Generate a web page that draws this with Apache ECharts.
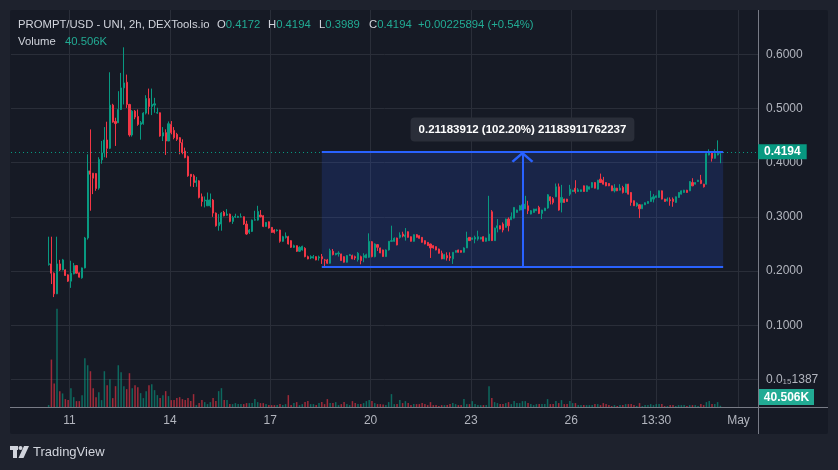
<!DOCTYPE html>
<html><head><meta charset="utf-8">
<script src="https://cdn.jsdelivr.net/npm/echarts@6/dist/echarts.min.js"></script>
<style>html,body{margin:0;padding:0;background:#1e222d}#c{width:838px;height:470px}</style>
</head><body><div id="c"></div>
<script>
// ---- data (2h candles, PROMPT/USD) ----
const opens=[
.2120,.2132,.1961,.1580,.2132,.2022,.2022,.1930,.1814,.1948,
.2101,.1967,.1875,.2058,.2610,.3848,.3805,.3799,.3530,.4050,
.4180,.4418,.4265,.5061,.4760,.4736,.4981,.5379,.5483,.5073,
.4510,.4950,.4852,.4705,.4718,.4914,.5183,.5036,.5061,.4914,
.4920,.4491,.4553,.4399,.4705,.4595,.4522,.4461,.4369,.4215,
.4111,.3786,.3756,.3633,.3664,.3370,.3296,.3204,.3204,.3310,
.3070,.2836,.2867,.3082,.3030,.3050,.2916,.2995,.2990,.3000,
.3002,.2867,.2713,.2732,.2940,.2940,.3033,.3020,.2824,.2909,
.2806,.2757,.2745,.2757,.2549,.2620,.2634,.2561,.2438,.2468,
.2365,.2389,.2420,.2266,.2242,.2242,.2266,.2242,.2266,.2205,
.2205,.2144,.2365,.2303,.2316,.2316,.2266,.2163,.2285,.2285,
.2266,.2211,.2266,.2254,.2242,.2254,.2542,.2266,.2487,.2426,
.2389,.2267,.2389,.2549,.2549,.2610,.2622,.2683,.2634,.2726,
.2634,.2549,.2671,.2653,.2622,.2561,.2530,.2499,.2469,.2450,
.2407,.2328,.2224,.2285,.2267,.2224,.2346,.2389,.2377,.2346,
.2426,.2622,.2585,.2590,.2590,.2591,.2634,.2549,.2561,.3094,
.2561,.2794,.2836,.2867,.2806,.2960,.2947,.2977,.3082,.3125,
.3125,.3149,.3204,.3051,.3082,.3113,.3174,.3063,.3113,.3162,
.3370,.3334,.3370,.3554,.3266,.3327,.3327,.3419,.3468,.3529,
.3468,.3468,.3572,.3468,.3511,.3542,.3633,.3511,.3695,.3676,
.3633,.3615,.3572,.3480,.3529,.3492,.3542,.3450,.3603,.3450,
.3297,.3205,.3223,.3150,.3223,.3248,.3284,.3327,.3358,.3358,
.3480,.3327,.3297,.3315,.3327,.3266,.3358,.3419,.3450,.3492,
.3480,.3633,.3603,.3652,.3676,.3603,.3603,.4141,.4203,.4080,
.4141,.4172];
const closes=[
.2135,.1961,.1580,.2132,.2022,.2206,.1918,.1814,.1960,.2101,
.1961,.1887,.2058,.2610,.3848,.3787,.3713,.3523,.4060,.4180,
.4418,.4265,.5061,.4748,.4720,.4981,.5379,.5471,.5073,.4510,
.4950,.4840,.4705,.4736,.4914,.5183,.5036,.5073,.5085,.4925,
.4491,.4553,.4399,.4718,.4553,.4461,.4430,.4369,.4185,.4093,
.3756,.3744,.3633,.3664,.3358,.3284,.3309,.3309,.3314,.3070,
.2836,.2898,.3070,.3020,.3050,.2916,.2990,.3008,.3008,.3002,
.2867,.2683,.2756,.2940,.2946,.3100,.3002,.2824,.2898,.2794,
.2713,.2713,.2757,.2549,.2634,.2646,.2499,.2438,.2468,.2365,
.2438,.2456,.2266,.2224,.2266,.2266,.2205,.2260,.2224,.2200,
.2144,.2377,.2303,.2328,.2334,.2193,.2163,.2285,.2303,.2224,
.2242,.2328,.2193,.2285,.2303,.2549,.2266,.2499,.2438,.2334,
.2267,.2389,.2549,.2561,.2604,.2481,.2665,.2646,.2665,.2622,
.2549,.2671,.2622,.2604,.2530,.2499,.2469,.2426,.2426,.2389,
.2328,.2224,.2303,.2242,.2242,.2346,.2377,.2346,.2346,.2426,
.2610,.2561,.2610,.2622,.2634,.2622,.2549,.2610,.2683,.2561,
.2794,.2836,.2775,.2757,.2960,.2836,.3002,.3174,.3125,.3204,
.3223,.3235,.3113,.3113,.3143,.3143,.3063,.3125,.3160,.3407,
.3297,.3266,.3554,.3125,.3358,.3266,.3284,.3511,.3492,.3468,
.3499,.3499,.3468,.3572,.3554,.3633,.3529,.3676,.3633,.3603,
.3572,.3572,.3480,.3529,.3480,.3529,.3450,.3603,.3419,.3266,
.3205,.3254,.3150,.3223,.3260,.3284,.3358,.3370,.3388,.3480,
.3327,.3284,.3327,.3297,.3284,.3370,.3450,.3480,.3492,.3450,
.3652,.3572,.3633,.3676,.3615,.3554,.4166,.4185,.4080,.4166,
.4172,.4194];
const lows=[
.2101,.1760,.1520,.1575,.2000,.2015,.1910,.1800,.1690,.1940,
.1955,.1880,.1860,.2050,.2580,.3113,.3419,.3480,.3500,.3980,
.4100,.4090,.4250,.4736,.4308,.4736,.4970,.5073,.5010,.4479,
.4480,.4800,.4680,.4424,.4700,.4889,.4889,.4877,.4920,.4901,
.4479,.4399,.4142,.4399,.4522,.4430,.4400,.4154,.4154,.4081,
.3740,.3560,.3550,.3554,.3340,.3192,.3174,.3200,.3174,.3000,
.2820,.2745,.2744,.3010,.3020,.2900,.2870,.2980,.2980,.2990,
.2850,.2670,.2683,.2720,.2930,.2930,.2990,.2810,.2815,.2785,
.2705,.2690,.2730,.2524,.2540,.2600,.2490,.2425,.2425,.2352,
.2352,.2377,.2254,.2218,.2220,.2230,.2199,.2193,.2132,.2076,
.2132,.2138,.2290,.2290,.2267,.2190,.2157,.2157,.2278,.2218,
.2205,.2175,.2125,.2163,.2240,.2245,.2254,.2254,.2371,.2330,
.2262,.2262,.2377,.2543,.2540,.2475,.2600,.2622,.2561,.2616,
.2543,.2543,.2616,.2598,.2524,.2493,.2462,.2242,.2414,.2383,
.2322,.2218,.2218,.2193,.2187,.2132,.2340,.2340,.2340,.2340,
.2426,.2555,.2580,.2512,.2561,.2585,.2543,.2543,.2555,.2555,
.2555,.2714,.2770,.2714,.2800,.2732,.2941,.2970,.3076,.3113,
.3110,.3143,.3051,.3045,.3076,.3107,.3051,.2959,.3107,.3150,
.3229,.3229,.3364,.3113,.3082,.3260,.3278,.3388,.3462,.3431,
.3462,.3462,.3462,.3462,.3505,.3530,.3523,.3505,.3627,.3597,
.3566,.3566,.3474,.3450,.3474,.3486,.3431,.3444,.3413,.3205,
.3199,.3187,.2977,.3144,.3217,.3242,.3278,.3266,.3352,.3352,
.3321,.3278,.3284,.3205,.3186,.3260,.3352,.3413,.3444,.3444,
.3474,.3566,.3597,.3646,.3603,.3541,.3597,.4135,.4019,.4074,
.4135,.3989];
const highs=[
.2634,.2634,.1975,.2634,.2206,.2224,.2030,.1940,.2190,.2150,
.2110,.1975,.2065,.2630,.4154,.4613,.3810,.3805,.4100,.4400,
.4656,.4755,.5667,.5085,.4828,.5318,.5655,.6127,.5624,.5085,
.4970,.4970,.4981,.4767,.4930,.5244,.5366,.5366,.5195,.5012,
.4925,.4656,.4614,.4760,.4767,.4656,.4550,.4473,.4430,.4277,
.4130,.3786,.3786,.3737,.3676,.3431,.3376,.3449,.3431,.3330,
.3080,.3050,.3090,.3110,.3143,.3060,.3020,.3058,.3020,.3063,
.3008,.2928,.2775,.2950,.3112,.3204,.3125,.3030,.2905,.2915,
.2812,.2770,.2770,.2763,.2650,.2713,.2650,.2570,.2487,.2474,
.2456,.2468,.2440,.2285,.2290,.2297,.2273,.2285,.2316,.2224,
.2224,.2413,.2407,.2334,.2365,.2320,.2274,.2297,.2316,.2303,
.2285,.2350,.2285,.2328,.2320,.2696,.2555,.2511,.2499,.2432,
.2395,.2400,.2555,.2837,.2620,.2616,.2714,.2726,.2793,.2732,
.2640,.2677,.2683,.2659,.2628,.2567,.2536,.2505,.2475,.2456,
.2414,.2377,.2316,.2346,.2346,.2352,.2383,.2395,.2383,.2438,
.2726,.2628,.2616,.2653,.2745,.2628,.2640,.2616,.3388,.3125,
.2800,.2959,.2842,.2898,.2966,.2990,.3082,.3180,.3131,.3217,
.3480,.3388,.3296,.3125,.3149,.3149,.3204,.3130,.3166,.3420,
.3376,.3364,.3615,.3615,.3590,.3334,.3333,.3590,.3498,.3676,
.3529,.3505,.3578,.3578,.3560,.3640,.3640,.3682,.3798,.3737,
.3640,.3621,.3578,.3603,.3535,.3603,.3572,.3609,.3609,.3456,
.3303,.3266,.3229,.3229,.3266,.3290,.3480,.3419,.3394,.3486,
.3486,.3333,.3358,.3358,.3358,.3376,.3456,.3486,.3498,.3498,
.3658,.3713,.3640,.3682,.3774,.3609,.4190,.4246,.4209,.4246,
.4411,.4194];
const volumesK=[
60,1431,711,2961,480,411,240,210,570,300,
180,180,360,1470,1260,1080,570,300,450,210,
1080,660,840,270,630,1260,1050,630,540,1020,
570,660,600,420,270,480,660,690,510,360,
270,360,480,330,210,210,270,300,240,210,
270,180,390,60,120,210,150,90,150,270,
180,480,570,210,210,90,90,120,90,90,
90,120,120,120,240,150,120,120,90,60,
60,60,60,90,60,90,360,60,120,150,
60,90,150,180,90,90,60,120,150,90,
240,120,120,150,60,90,150,90,60,180,
120,90,90,120,180,210,180,120,90,90,
75,60,150,390,90,90,210,120,180,120,
60,90,90,90,120,90,60,150,60,60,
30,60,60,60,90,120,90,60,60,240,
90,90,180,90,60,60,60,60,630,270,
150,120,90,90,120,150,90,180,120,120,
180,180,120,90,60,90,90,90,90,240,
90,90,180,120,210,90,90,180,120,120,
60,60,60,60,60,60,90,90,60,120,
90,60,30,60,30,60,60,90,90,90,
60,30,120,30,60,60,90,60,90,90,
90,30,30,60,60,30,60,60,60,30,
60,60,60,30,90,60,150,180,90,90,
150,40.506];
// time axis labels (positions on a half-slot grid; day labels fall between bars)
const timeTickSlots=[42,114,186,258,330,402,463,522];
const timeTickLabels=['11','14','17','20','23','26','13:30','May'];
// measuring tool
const measureFrom=0.20756088, measureTo=0.4194;
const measureText='0.21183912 (102.20%) 21183911762237';
const changeText='+0.00225894 (+0.54%)';

// ---- layout constants ----
const FIRST_SLOT=13, SLOT_COUNT=268;
const MEASURE_START=111, MEASURE_END=255, ARROW_SLOT=183;
const FONT='"Liberation Sans", Arial, sans-serif';
const UP='#089981', DOWN='#f23645';
const VUP='rgba(8,153,129,0.62)', VDOWN='rgba(242,54,69,0.62)';
const TXT='#b2b5be', GRID='#2a2e39';

const slots=[], candleData=[], volData=[];
for(let k=0;k<SLOT_COUNT;k++){
  slots.push(String(k));
  const i=k-FIRST_SLOT;
  if(i>=0 && i<opens.length){
    candleData.push([opens[i],closes[i],lows[i],highs[i]]);
    volData.push({value:volumesK[i],itemStyle:{color:closes[i]>=opens[i]?VUP:VDOWN}});
  } else { candleData.push('-'); volData.push('-'); }
}
const halfSlots=[]; for(let m=0;m<=SLOT_COUNT*2;m++) halfSlots.push(String(m));
const labelAt={}; timeTickSlots.forEach((s,i)=>labelAt[s]=timeTickLabels[i]);
const tickFn=(idx)=>Object.prototype.hasOwnProperty.call(labelAt,idx);

const n=opens.length-1;
const lastClose=closes[n], lastVol=volumesK[n];
const chevron='path://M0,10 L10,0 L20,10 L18.2,11.6 L10,3.4 L1.8,11.6 Z';

const chart=echarts.init(document.getElementById('c'),null,{renderer:'canvas'});
chart.setOption({
  animation:false,
  backgroundColor:'#1e222d',
  textStyle:{fontFamily:FONT},
  grid:[
    {left:11,right:80,top:10,bottom:63,show:false},
    {left:11,right:80,top:-1.5,bottom:36.3,show:false}
  ],
  xAxis:[
    {gridIndex:0,type:'category',boundaryGap:false,data:halfSlots,
     axisLine:{show:false},axisTick:{show:false},
     axisLabel:{interval:tickFn,formatter:(v)=>labelAt[Number(v)]||'',color:TXT,fontSize:12,margin:8,fontFamily:FONT},
     splitLine:{show:true,interval:tickFn,lineStyle:{color:GRID,width:1}}},
    {gridIndex:1,type:'category',boundaryGap:true,data:slots,show:false}
  ],
  yAxis:[
    {gridIndex:0,type:'value',show:false,min:0,max:1,splitLine:{show:false}},
    {gridIndex:1,type:'value',position:'right',min:-0.1,max:0.7,interval:0.1,
     axisLine:{show:false},axisTick:{show:false},
     axisLabel:{color:TXT,fontSize:12,margin:8,fontFamily:FONT,
       formatter:(v)=>{ if(Math.abs(v)<1e-9) return '0.0\u2081\u20851387'; if(v<0||v>0.65) return ''; return v.toFixed(4);} },
     splitLine:{show:true,showMinLine:false,showMaxLine:false,lineStyle:{color:GRID,width:1}}},
    {gridIndex:1,type:'value',show:false,min:-801,max:12255,splitLine:{show:false}}
  ],
  series:[
    {type:'bar',name:'Volume',xAxisIndex:1,yAxisIndex:2,data:volData,barWidth:1.5,z:1,silent:true},
    {type:'candlestick',name:'PROMPT/USD',xAxisIndex:1,yAxisIndex:1,data:candleData,barWidth:1.6,z:3,silent:true,
     itemStyle:{color:UP,color0:DOWN,borderColor:UP,borderColor0:DOWN,borderWidth:1},
     markArea:{silent:true,itemStyle:{color:'rgba(41,98,255,0.16)'},
       data:[[{coord:[MEASURE_START,measureFrom]},{coord:[MEASURE_END,measureTo]}]]},
     markLine:{silent:true,symbol:'none',label:{show:false},
       data:[
         {yAxis:lastClose,lineStyle:{color:UP,type:[1,3],width:1},
          label:{show:true,position:'end',distance:0,formatter:lastClose.toFixed(4),color:'#ffffff',fontWeight:'bold',fontSize:12,fontFamily:FONT,backgroundColor:UP,padding:[2,6,1,6]}},
         [{coord:[MEASURE_START,measureTo],lineStyle:{color:'#2962ff',width:2,type:'solid'}},{coord:[MEASURE_END,measureTo]}],
         [{coord:[MEASURE_START,measureFrom],lineStyle:{color:'#2962ff',width:2,type:'solid'}},{coord:[MEASURE_END,measureFrom]}],
         [{coord:[ARROW_SLOT,measureFrom],symbol:'none',lineStyle:{color:'#2962ff',width:2,type:'solid'}},
          {coord:[ARROW_SLOT,measureTo],symbol:chevron,symbolSize:[22,11],symbolOffset:[0,5]}]
       ]},
     markPoint:{silent:true,
       data:[{coord:[ARROW_SLOT,measureTo],symbol:'rect',symbolSize:1,itemStyle:{color:'rgba(0,0,0,0)'},
         label:{show:true,position:'top',distance:10,formatter:measureText,color:'#ffffff',fontWeight:'bold',fontSize:11.5,fontFamily:FONT,
           backgroundColor:'#2a2e39',borderRadius:4,padding:[6,8]}}]}
    }
  ],
  graphic:[
    {type:'rect',z:-10,shape:{x:10,y:10,width:818,height:424,r:2},style:{fill:'#161a25'}},
    {type:'line',z:5,shape:{x1:10,y1:407.5,x2:828,y2:407.5},style:{stroke:'#787b86',lineWidth:1}},
    {type:'line',z:5,shape:{x1:758.5,y1:10,x2:758.5,y2:434},style:{stroke:'#787b86',lineWidth:1}},
    {type:'text',z:10,x:18,y:24.5,style:{text:'PROMPT/USD - UNI, 2h, DEXTools.io',fill:'#d1d4dc',font:'11.3px '+FONT,verticalAlign:'middle'}},
    {type:'text',z:10,x:217,y:24.5,style:{text:'{l|O}{v|'+opens[n].toFixed(4)+'}',verticalAlign:'middle',rich:{l:{fill:'#d1d4dc',font:'11.3px '+FONT},v:{fill:'#22ab94',font:'11.3px '+FONT}}}},
    {type:'text',z:10,x:268,y:24.5,style:{text:'{l|H}{v|'+highs[n].toFixed(4)+'}',verticalAlign:'middle',rich:{l:{fill:'#d1d4dc',font:'11.3px '+FONT},v:{fill:'#22ab94',font:'11.3px '+FONT}}}},
    {type:'text',z:10,x:319,y:24.5,style:{text:'{l|L}{v|'+lows[n].toFixed(4)+'}',verticalAlign:'middle',rich:{l:{fill:'#d1d4dc',font:'11.3px '+FONT},v:{fill:'#22ab94',font:'11.3px '+FONT}}}},
    {type:'text',z:10,x:369,y:24.5,style:{text:'{l|C}{v|'+closes[n].toFixed(4)+'}',verticalAlign:'middle',rich:{l:{fill:'#d1d4dc',font:'11.3px '+FONT},v:{fill:'#22ab94',font:'11.3px '+FONT}}}},
    {type:'text',z:10,x:418,y:24.5,style:{text:changeText,fill:'#22ab94',font:'11.3px '+FONT,verticalAlign:'middle'}},
    {type:'text',z:10,x:18,y:42,style:{text:'Volume',fill:'#d1d4dc',font:'11.3px '+FONT,verticalAlign:'middle'}},
    {type:'text',z:10,x:65,y:42,style:{text:lastVol.toFixed(3)+'K',fill:'#22ab94',font:'11.3px '+FONT,verticalAlign:'middle'}},
    {type:'rect',z:10,shape:{x:759,y:389,width:55,height:16},style:{fill:'#22ab94'}},
    {type:'text',z:11,x:786.5,y:397.5,style:{text:lastVol.toFixed(3)+'K',fill:'#ffffff',font:'bold 12px '+FONT,align:'center',verticalAlign:'middle'}},
    {type:'rect',z:10,shape:{x:10,y:446,width:8,height:4},style:{fill:'#d1d4dc'}},
    {type:'rect',z:10,shape:{x:13,y:446,width:4,height:12},style:{fill:'#d1d4dc'}},
    {type:'circle',z:10,shape:{cx:20.5,cy:448,r:2},style:{fill:'#d1d4dc'}},
    {type:'polygon',z:10,shape:{points:[[24,446],[29,446],[23.5,458],[18.5,458]]},style:{fill:'#d1d4dc'}},
    {type:'text',z:10,x:33,y:452.5,style:{text:'TradingView',fill:'#d1d4dc',font:'13px '+FONT,verticalAlign:'middle'}}
  ]
});
</script></body></html>
